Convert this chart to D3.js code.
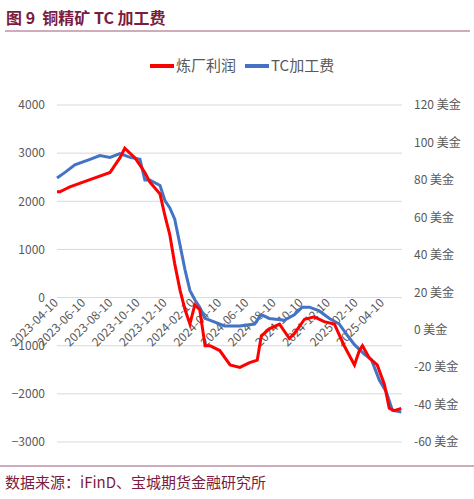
<!DOCTYPE html>
<html><head><meta charset="utf-8">
<script src="https://cdn.jsdelivr.net/npm/d3@7"></script>
<style>body{margin:0;background:#fff}text{font-family:"Noto Sans CJK SC","Noto Sans",sans-serif}</style>
</head><body><div class="chart"></div>
<script>
const profitDates = ["2023-04-10","2023-04-17","2023-04-28","2023-05-09","2023-06-23","2023-08-07","2023-08-18","2023-08-29","2023-09-09","2023-10-02","2023-10-24","2023-11-04","2023-11-27","2023-12-08","2023-12-19","2023-12-30","2024-01-11","2024-01-22","2024-02-02","2024-02-13","2024-02-24","2024-03-07","2024-03-18","2024-04-09","2024-05-02","2024-05-24","2024-06-15","2024-07-02","2024-07-11","2024-07-29","2024-08-21","2024-09-12","2024-09-23","2024-10-16","2024-11-07","2024-11-29","2024-12-22","2025-01-13","2025-02-05","2025-02-16","2025-02-23","2025-03-10","2025-03-28","2025-04-13","2025-04-24","2025-05-05","2025-05-21"];
const profit = [2200,2200,2250,2300,2450,2600,2750,2900,3100,2900,2600,2400,2150,1700,1300,700,150,-250,-550,-150,-250,-1000,-1000,-1100,-1400,-1450,-1350,-1300,-800,-650,-550,-850,-750,-450,-400,-500,-550,-1000,-1400,-1100,-1000,-1250,-1400,-1800,-2300,-2350,-2300];

const tcDates = ["2023-04-10","2023-04-28","2023-05-20","2023-06-23","2023-07-15","2023-08-07","2023-08-29","2023-09-21","2023-10-13","2023-10-24","2023-11-04","2023-11-27","2023-12-08","2023-12-19","2023-12-30","2024-01-11","2024-01-22","2024-02-02","2024-02-13","2024-02-24","2024-03-07","2024-03-29","2024-04-20","2024-05-24","2024-06-26","2024-07-11","2024-07-29","2024-09-01","2024-09-23","2024-10-11","2024-10-27","2024-11-18","2024-12-11","2025-01-02","2025-01-20","2025-02-05","2025-02-27","2025-03-15","2025-04-02","2025-04-17","2025-05-01","2025-05-21"];
const tc = [81,84,88,91,93,92,94,92,91,80,80,77,69,65,59,45,32,21,16,12,6,4,2,2,3,8,6,5,8,12,12,10,6,3,-3,-8,-13,-16,-27,-33,-43,-44];

const leftTicks = [4000,3000,2000,1000,0,-1000,-2000,-3000];
const rightTicks = [120,100,80,60,40,20,0,-20,-40,-60];
const xTicks = ["2023-04-10","2023-06-10","2023-08-10","2023-10-10","2023-12-10","2024-02-10","2024-04-10","2024-06-10","2024-08-10","2024-10-10","2024-12-10","2025-02-10","2025-04-10"];

const W = 474, H = 499, x0 = 57, x1 = 402, yTop = 105, yBot = 442;
const parse = d3.timeParse("%Y-%m-%d");
const svg = d3.select(".chart").append("svg").attr("width", W).attr("height", H);

svg.append("text").attr("x", 6).attr("y", 24).attr("fill", "#7b1c3e")
  .attr("font-size", 16).attr("font-weight", "bold").attr("xml:space", "preserve")
  .text("图 9  铜精矿 TC 加工费");
svg.append("line").attr("x1", 5).attr("x2", 470).attr("y1", 31).attr("y2", 31)
  .attr("stroke", "#9b5a78").attr("stroke-width", 1.2);

const x = d3.scaleTime().domain([parse("2023-04-10"), parse("2025-04-10")]).range([x0, 383]);
const yL = d3.scaleLinear().domain([-3000, 4000]).range([yBot, yTop]);
const yR = d3.scaleLinear().domain([-60, 120]).range([yBot, yTop]);

svg.append("g").selectAll("line").data(leftTicks).join("line")
  .attr("x1", x0).attr("x2", x1).attr("y1", d => yL(d)).attr("y2", d => yL(d))
  .attr("stroke", "#d9d9d9");

const gl = svg.append("g").attr("transform", `translate(${x0},0)`)
  .call(d3.axisLeft(yL).tickValues(leftTicks).tickSize(0).tickPadding(12).tickFormat(d3.format("d")));
const gr = svg.append("g").attr("transform", `translate(${x1},0)`)
  .call(d3.axisRight(yR).tickValues(rightTicks).tickSize(0).tickPadding(12).tickFormat(d => d + " 美金"));
[gl, gr].forEach(g => {
  g.select(".domain").remove();
  g.selectAll("text").attr("fill", "#595959").attr("font-size", 12);
});

svg.append("g").selectAll("text").data(xTicks).join("text")
  .attr("transform", d => `translate(${x(parse(d)) + 2},${yL(0) + 6}) rotate(-45)`)
  .attr("text-anchor", "end").attr("fill", "#595959").attr("font-size", 12).text(d => d);

const lineL = d3.line().x(d => x(parse(d[0]))).y(d => yL(d[1]));
const lineR = d3.line().x(d => x(parse(d[0]))).y(d => yR(d[1]));
svg.append("path").datum(tcDates.map((d, i) => [d, tc[i]])).attr("d", lineR)
  .attr("fill", "none").attr("stroke", "#4472c4").attr("stroke-width", 3);
svg.append("path").datum(profitDates.map((d, i) => [d, profit[i]])).attr("d", lineL)
  .attr("fill", "none").attr("stroke", "#ff0000").attr("stroke-width", 3);

const leg = [["炼厂利润", "#ff0000", 150], ["TC加工费", "#4472c4", 245]];
leg.forEach(([t, c, lx]) => {
  svg.append("line").attr("x1", lx).attr("x2", lx + 24).attr("y1", 66).attr("y2", 66)
    .attr("stroke", c).attr("stroke-width", 4);
  svg.append("text").attr("x", lx + 26).attr("y", 71).attr("fill", "#595959").attr("font-size", 15).text(t);
});

svg.append("line").attr("x1", 0).attr("x2", W).attr("y1", 466).attr("y2", 466)
  .attr("stroke", "#9b5a78").attr("stroke-width", 1);
svg.append("text").attr("x", 5).attr("y", 488).attr("fill", "#7b1c3e").attr("font-size", 15)
  .text("数据来源：iFinD、宝城期货金融研究所");
</script></body></html>
